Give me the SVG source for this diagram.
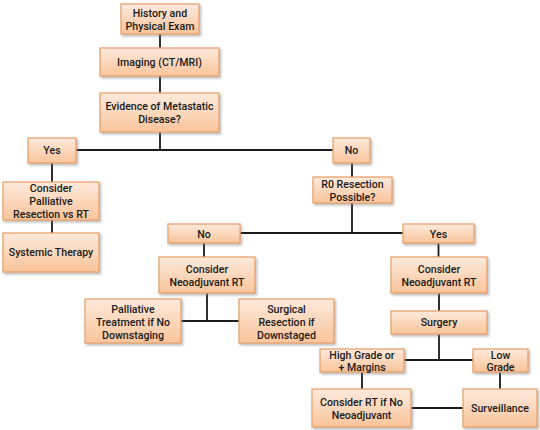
<svg xmlns="http://www.w3.org/2000/svg" width="540" height="430" viewBox="0 0 540 430">
<defs>
<linearGradient id="g" x1="0" y1="0" x2="0" y2="1">
<stop offset="0" stop-color="#fdeadd"/>
<stop offset="1" stop-color="#f9c49a"/>
</linearGradient>
<filter id="sh" x="-10%" y="-10%" width="125%" height="135%">
<feDropShadow dx="1.5" dy="1.8" stdDeviation="1" flood-color="#777" flood-opacity="0.5"/>
</filter>
</defs>
<style>
.b{fill:url(#g);stroke:#e9a46f;stroke-width:1.3;filter:url(#sh)}
text{font-family:Roboto,"Liberation Sans",Arial,sans-serif;font-weight:500;font-size:10.6px;fill:#1a1a1a;text-anchor:middle}
.c{stroke:#1a1a1a;stroke-width:1.8;fill:none}
</style>
<rect width="540" height="430" fill="#ffffff"/>
<g id="connectors">
<path class="c" d="M160,34V48M160,76V93M160,132V150M76,150H333M52,163V182M52,220V233M352,163V177M352,203V233M240,233H403M204,243V257M207,293V321M181,321H239M438.5,243V257M439,293V311M439,334V360M404,360H473M362,372V389M500,372V389M411,408H463"/>
</g>
<g id="history"><rect class="b" x="121" y="4" width="78" height="30"/><text x="160" y="17">History and</text><text x="160" y="29.5">Physical Exam</text></g>
<g id="imaging"><rect class="b" x="100" y="48" width="119" height="28"/><text x="159.5" y="65.5">Imaging (CT/MRI)</text></g>
<g id="evidence"><rect class="b" x="100" y="93" width="119" height="39"/><text x="159.5" y="109.5">Evidence of Metastatic</text><text x="159.5" y="122.5">Disease?</text></g>
<g id="yes1"><rect class="b" x="28" y="138" width="48" height="25"/><text x="52" y="154">Yes</text></g>
<g id="no1"><rect class="b" x="333" y="138" width="37" height="25"/><text x="351.5" y="154">No</text></g>
<g id="palliative-resection"><rect class="b" x="3" y="182" width="96" height="38"/><text x="51" y="192">Consider</text><text x="51" y="205">Palliative</text><text x="51" y="218">Resection vs RT</text></g>
<g id="systemic"><rect class="b" x="3" y="233" width="96" height="39"/><text x="51" y="256">Systemic Therapy</text></g>
<g id="r0"><rect class="b" x="313" y="177" width="79" height="26"/><text x="352.5" y="188">R0 Resection</text><text x="352.5" y="201">Possible?</text></g>
<g id="no2"><rect class="b" x="168" y="224" width="72" height="19"/><text x="204" y="237.5">No</text></g>
<g id="yes2"><rect class="b" x="403" y="224" width="71" height="19"/><text x="438.5" y="237.5">Yes</text></g>
<g id="neo-left"><rect class="b" x="159" y="257" width="96" height="36"/><text x="207" y="272.5">Consider</text><text x="207" y="285.5">Neoadjuvant RT</text></g>
<g id="neo-right"><rect class="b" x="391" y="257" width="96" height="36"/><text x="439" y="272.5">Consider</text><text x="439" y="285.5">Neoadjuvant RT</text></g>
<g id="palliative-treatment"><rect class="b" x="85" y="299" width="96" height="44"/><text x="133" y="312.5">Palliative</text><text x="133" y="325.5">Treatment if No</text><text x="133" y="338.5">Downstaging</text></g>
<g id="surgical-resection"><rect class="b" x="239" y="299" width="95" height="44"/><text x="286.5" y="312.5">Surgical</text><text x="286.5" y="325.5">Resection if</text><text x="286.5" y="338.5">Downstaged</text></g>
<g id="surgery"><rect class="b" x="391" y="311" width="96" height="23"/><text x="439" y="326">Surgery</text></g>
<g id="high-grade"><rect class="b" x="320" y="349" width="84" height="23"/><text x="362" y="358.5">High Grade or</text><text x="362" y="371">+ Margins</text></g>
<g id="low-grade"><rect class="b" x="473" y="349" width="55" height="23"/><text x="500.5" y="358.5">Low</text><text x="500.5" y="371">Grade</text></g>
<g id="consider-rt"><rect class="b" x="312" y="389" width="99" height="38"/><text x="361.5" y="405.5">Consider RT if No</text><text x="361.5" y="418.5">Neoadjuvant</text></g>
<g id="surveillance"><rect class="b" x="463" y="389" width="74" height="38"/><text x="500" y="412">Surveillance</text></g>
</svg>
